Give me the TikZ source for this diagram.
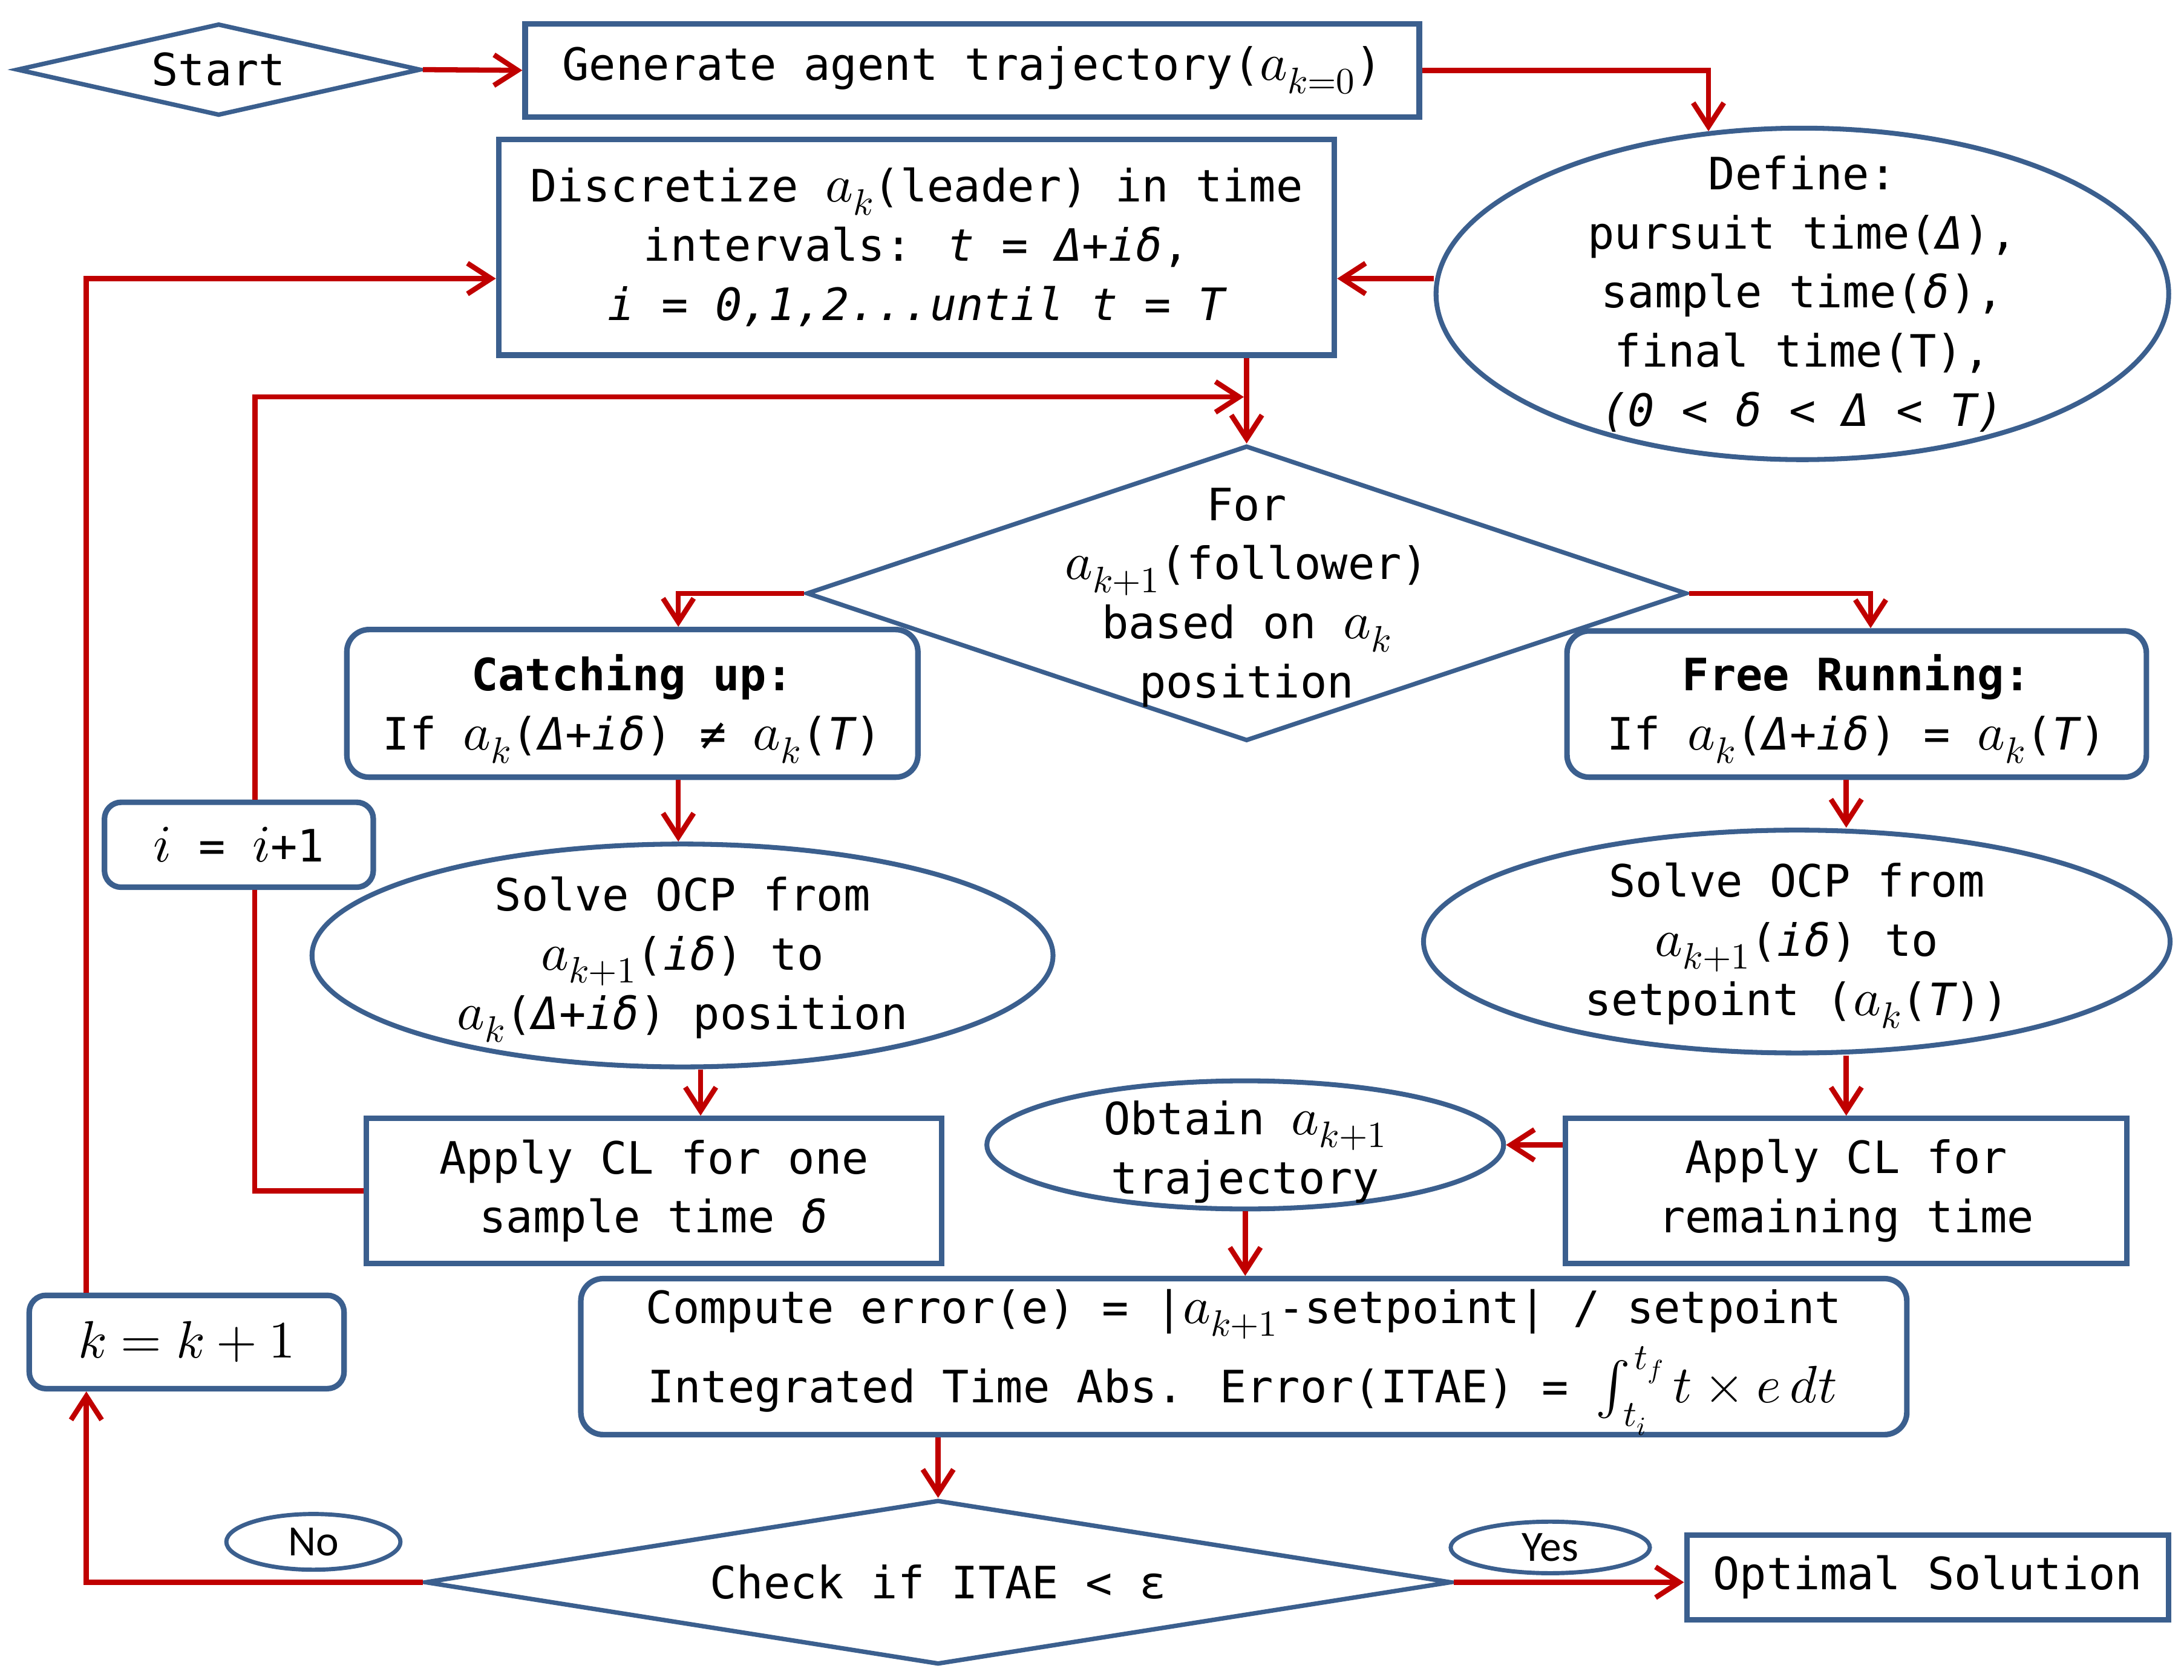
\documentclass[tikz,border=0pt]{standalone}
\usepackage{fontspec}
\usepackage{unicode-math}
\setmathfont{Latin Modern Math}[Scale=1.18]
\newfontfamily\mono{DejaVu Sans Mono}
\newfontfamily\lblfont{Carlito}
\usetikzlibrary{shapes.geometric,arrows.meta}
\definecolor{bordblue}{HTML}{3B5F8E}
\definecolor{arrred}{HTML}{C00000}
\newcommand\mi[1]{{\itshape #1}}
\begin{document}
\begin{tikzpicture}[x=1pt,y=-1pt,
  txt/.style={font=\mono\fontsize{32}{42.5}\selectfont, align=center, inner sep=0pt, text=black},
  lbl/.style={font=\lblfont\fontsize{31}{36}\selectfont, inner sep=0pt, text=black},
  box/.style={txt, draw=bordblue, line width=4pt},
  rbox/.style={box, rounded corners=16pt},
  ell/.style={ellipse, draw=bordblue, line width=3.5pt, inner sep=0pt},
  dia/.style={diamond, draw=bordblue, line width=3.2pt, inner sep=0pt},
  arr/.style={draw=arrred, line width=3.7pt, -{Straight Barb[length=17pt,width=22pt]}},
  lin/.style={draw=arrred, line width=3.5pt}]
\useasboundingbox (0,0) rectangle (1568,1206);

% shapes
\node[dia, minimum width=290pt, minimum height=66pt] (start) at (157,50) {};
\node[txt] (startT) at (start) {Start};
\node[box, minimum width=642pt, minimum height=67pt] (gen) at (698,50.5) {Generate agent trajectory($a_{k=0}$)};
\node[box, minimum width=600pt, minimum height=155pt] (disc) at (658,177.5) {Discretize $a_k$(leader) in time\\ intervals: \mi{t = Δ+iδ},\\ \mi{i = 0,1,2...until t = T}};
\node[ell, minimum width=526pt, minimum height=238pt] (define) at (1294,211) {};
\node[txt] (defineT) at (define) {Define:\\pursuit time(\mi{Δ}),\\sample time(\mi{δ}),\\final time(T),\\\mi{(0 < δ < Δ < T)}};
\node[dia, minimum width=632pt, minimum height=212pt] (forD) at (895,426) {};
\node[txt] (forT) at (895,429) {For\\$a_{k+1}$(follower)\\based on $a_k$\\position};
\node[rbox, minimum width=410pt, minimum height=106pt] (catch) at (454,505) {};
\node[txt] (catchT) at (454,509) {\textbf{Catching up:}\\If $a_k$(\mi{Δ+iδ}) ≠ $a_k$(\mi{T})};
\node[rbox, minimum width=416pt, minimum height=105pt] (free) at (1333,505.5) {};
\node[txt] (freeT) at (1333,509) {\textbf{Free Running:}\\If $a_k$(\mi{Δ+iδ}) = $a_k$(\mi{T})};
\node[ell, minimum width=532pt, minimum height=160pt] (solveL) at (490,686) {};
\node[txt] (solveLT) at (490,689) {Solve OCP from\\$a_{k+1}$(\mi{iδ}) to\\$a_k$(\mi{Δ+iδ}) position};
\node[ell, minimum width=536pt, minimum height=160pt] (solveR) at (1290,676) {};
\node[txt] (solveRT) at (1290,679) {Solve OCP from\\$a_{k+1}$(\mi{iδ}) to\\setpoint ($a_k$(\mi{T}))};
\node[box, minimum width=413pt, minimum height=104pt] (applyL) at (469.5,855) {Apply CL for one\\sample time \mi{δ}};
\node[box, minimum width=403pt, minimum height=104pt] (applyR) at (1325.5,855) {Apply CL for\\remaining time};
\node[ell, minimum width=371pt, minimum height=92pt] (obtain) at (894,822) {};
\node[txt] (obtainT) at (894,827) {Obtain $a_{k+1}$\\trajectory};
\node[rbox, minimum width=952pt, minimum height=112pt] (compute) at (893,974) {};
\node[txt, anchor=base] (computeA) at (893,950) {Compute error(e) = |$a_{k+1}$-setpoint| / setpoint};
\node[txt, anchor=base] (computeB) at (892,1007) {Integrated Time Abs. Error(ITAE) = $\int_{\mkern5mu t_i}^{\mkern2mu t_f} t\times e\,dt$};
\node[box, rounded corners=12pt, minimum width=193pt, minimum height=61pt] (ibox) at (171.5,606.5) {$i$ = $i$+1};
\node[box, rounded corners=12pt, minimum width=226pt, minimum height=67pt] (kbox) at (134,963.5) {$k = k+1$};
\node[dia, minimum width=737pt, minimum height=118pt] (checkD) at (673.5,1136) {};
\node[txt] (checkT) at (checkD) {Check if ITAE < ε};
\node[ell, line width=3pt, minimum width=125pt, minimum height=40pt] (no) at (225,1107) {};
\node[lbl] (noT) at (no) {No};
\node[ell, line width=3pt, minimum width=143pt, minimum height=37pt] (yes) at (1113,1111) {};
\node[lbl] (yesT) at (yes) {Yes};
\node[box, minimum width=346pt, minimum height=61pt] (opt) at (1384,1132.5) {Optimal Solution};

\coordinate (join) at (893,285);

% connectors
\draw[arr] (start.east) -- (gen.west);
\draw[arr] (gen.east) -| (define.120);
\draw[arr] ([yshift=11pt]define.west) -- ([yshift=11pt]define.west -| disc.east);
\draw[arr] (disc.south -| forD.north) -- (forD.north);
\draw[arr] ([xshift=11.5pt]ibox.north) |- (join);
\draw[lin] (applyL.west) -| ([xshift=11.5pt]ibox.south);
\draw[arr] (forD.west) -| ([xshift=33pt]catch.north);
\draw[arr] (forD.east) -| ([xshift=10pt]free.north);
\draw[arr] ([xshift=33pt]catch.south) -- ([xshift=33pt]catch.south |- solveL.north);
\draw[arr] ([xshift=13pt]solveL.south) -- ([xshift=13pt]solveL.south |- applyL.north);
\draw[arr] (free.south -| applyR.north) -- (solveR.north -| applyR.north);
\draw[arr] (solveR.south -| applyR.north) -- (applyR.north);
\draw[arr] (applyR.west |- obtain.east) -- (obtain.east);
\draw[arr] (obtain.south) -- (obtain.south |- compute.north);
\draw[arr] (compute.south -| checkD.north) -- (checkD.north);
\draw[arr] (checkD.west) -| ([xshift=-72pt]kbox.south);
\draw[arr] ([xshift=-72pt]kbox.north) |- ([yshift=-22.5pt]disc.west);
\draw[arr] (checkD.east) -- (checkD.east -| opt.west);
\end{tikzpicture}
\end{document}
